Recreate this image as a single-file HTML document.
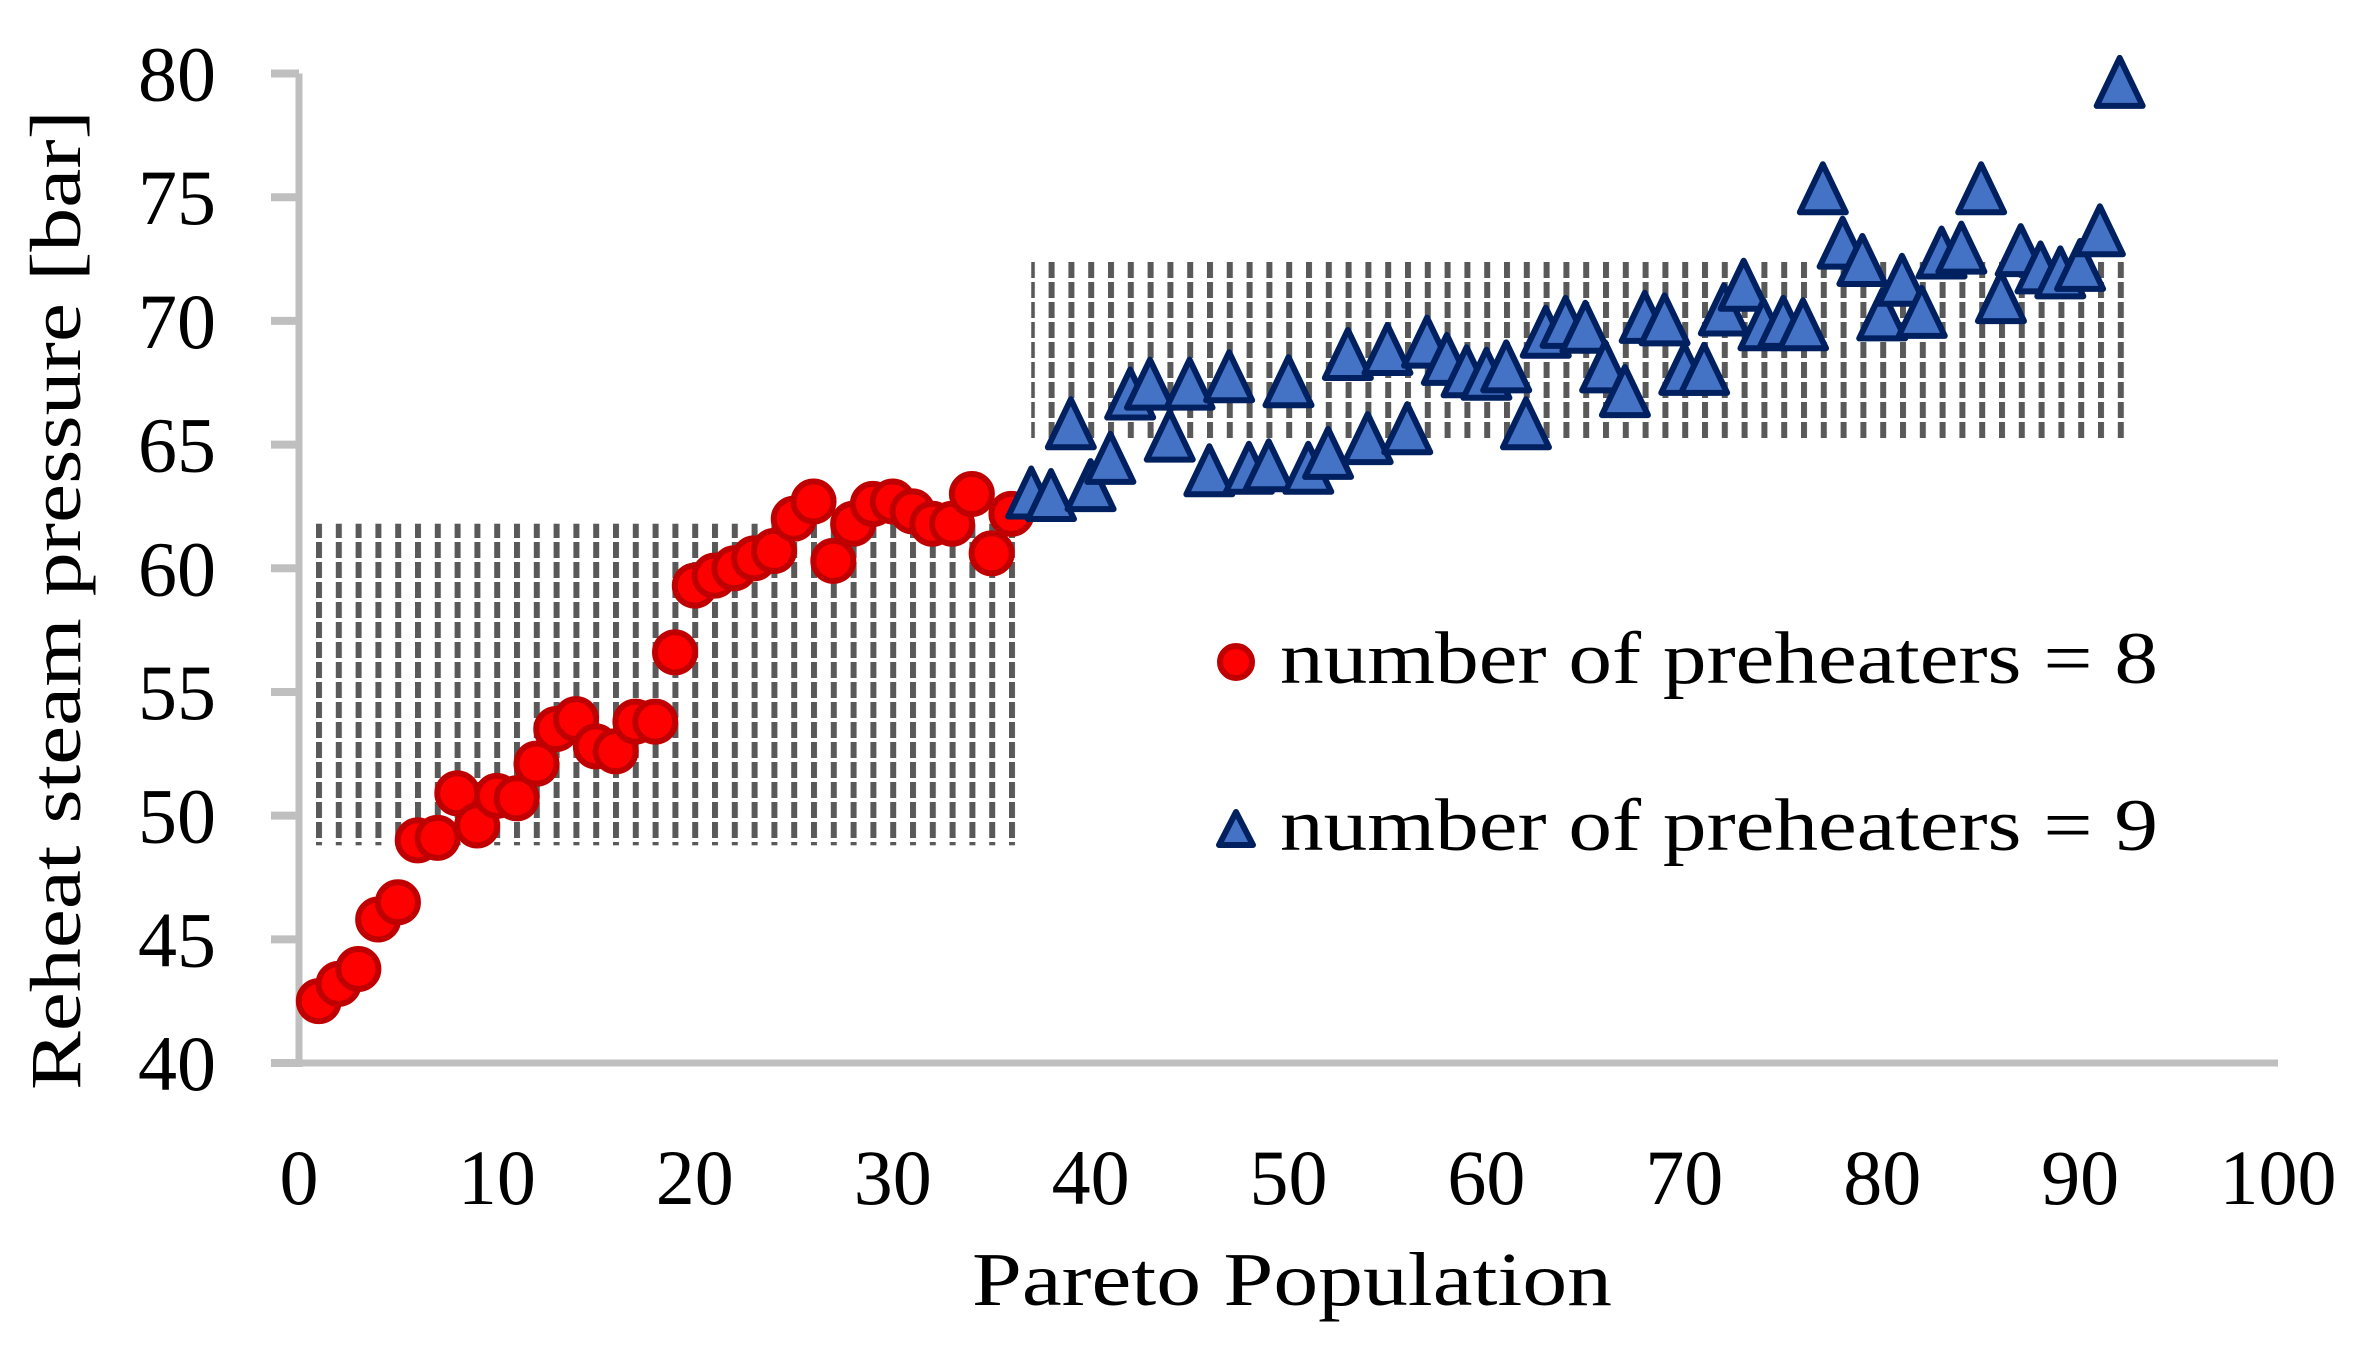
<!DOCTYPE html>
<html><head><meta charset="utf-8"><style>
html,body{margin:0;padding:0;background:#fff;}
svg{display:block;font-family:"Liberation Serif",serif;}
</style></head><body>
<svg id="chart" width="2360" height="1361" viewBox="0 0 2360 1361" xmlns="http://www.w3.org/2000/svg">
<defs>
<pattern id="hatch" patternUnits="userSpaceOnUse" width="19.8" height="20" x="316" y="522">
<rect x="0" y="0" width="6" height="16" fill="#595959"/>
</pattern>
</defs>
<g id="hatches"></g>
<g id="axes"></g>
<g id="marks"></g>
<text transform="translate(80,600) rotate(-90)" text-anchor="middle" font-size="72" textLength="980" lengthAdjust="spacingAndGlyphs">Reheat steam pressure [bar]</text>
<text x="1292" y="1305" text-anchor="middle" font-size="76" textLength="640" lengthAdjust="spacingAndGlyphs">Pareto Population</text>
<g>
<circle cx="1236" cy="662" r="16" fill="#ff0000" stroke="#c00000" stroke-width="6"/>
<text x="1280" y="683" font-size="74" textLength="878" lengthAdjust="spacingAndGlyphs">number of preheaters = 8</text>
<polygon points="1236,812 1219,845 1253,845" fill="#4472c4" stroke="#002060" stroke-width="6" stroke-linejoin="round"/>
<text x="1280" y="850" font-size="74" textLength="878" lengthAdjust="spacingAndGlyphs">number of preheaters = 9</text>
</g>
</svg>
<script>
const xTicks = [0,10,20,30,40,50,60,70,80,90,100];
const yTicks = [40,45,50,55,60,65,70,75,80];
const pop8 = [1,2,3,4,5,6,7,8,9,10,11,12,13,14,15,16,17,18,19,20,21,22,23,24,25,26,27,28,29,30,31,32,33,34,35,36];
const pres8 = [42.5,43.2,43.8,45.8,46.5,49.0,49.1,50.9,49.6,50.8,50.7,52.1,53.5,53.9,52.8,52.6,53.8,53.8,56.6,59.3,59.7,60.0,60.4,60.7,62.0,62.7,60.3,61.8,62.6,62.7,62.3,61.8,61.8,63.0,60.6,62.2];
const pop9 = [37,38,39,40,41,42,43,44,45,46,47,48,49,50,51,52,53,54,55,56,57,58,59,60,61,62,63,64,65,66,67,68,69,70,71,72,73,74,75,76,77,78,79,80,81,82,83,84,85,86,87,88,89,90,91,92];
const pres9 = [62.9,62.8,65.7,63.2,64.3,66.9,67.3,65.2,67.3,63.8,67.6,63.9,64.0,67.4,63.9,64.5,68.5,65.1,68.7,65.5,69.0,68.3,67.8,67.7,68.0,65.7,69.4,69.8,69.6,68.0,67.0,70.0,69.9,67.9,67.9,70.3,71.3,69.7,69.8,69.7,75.2,73.0,72.3,70.1,71.5,70.2,72.6,72.8,75.2,70.8,72.7,72.0,71.8,72.1,73.5,79.5];
const bandX = [[0.85,36.3],[37.0,92.3]];
const bandY = [[48.8,61.8],[65.2,72.4]];

const NS = "http://www.w3.org/2000/svg";
const X0 = 299, X1 = 2278, Y0 = 1063, Y1 = 73.5;
const xs = v => X0 + (v - 0) / 100 * (X1 - X0);
const ys = v => Y0 - (v - 40) / 40 * (Y0 - Y1);
function mk(tag, attrs, parent) {
  const e = document.createElementNS(NS, tag);
  for (const k in attrs) e.setAttribute(k, attrs[k]);
  parent.appendChild(e);
  return e;
}
const hatches = document.getElementById('hatches');
bandX.forEach((bx, i) => {
  const r = mk('rect', {x: xs(bx[0]), y: ys(bandY[i][1]), width: xs(bx[1]) - xs(bx[0]), height: ys(bandY[i][0]) - ys(bandY[i][1]), fill: 'url(#hatch)'}, hatches);
  
  
});
const axes = document.getElementById('axes');
const ya = mk('line', {x1: X0, y1: Y1, x2: X0, y2: Y0 + 4, stroke: '#bfbfbf', 'stroke-width': 7}, axes);


const xa = mk('line', {x1: 271, y1: Y0, x2: X1, y2: Y0, stroke: '#bfbfbf', 'stroke-width': 7}, axes);


yTicks.forEach(t => {
  const l = mk('line', {x1: 271, y1: ys(t), x2: X0, y2: ys(t), stroke: '#bfbfbf', 'stroke-width': 8}, axes);
  
  
  const tx = mk('text', {x: 216, y: ys(t) + 27, 'text-anchor': 'end', 'font-size': 78}, axes);
  tx.textContent = t;
  
  
});
xTicks.forEach(t => {
  const tx = mk('text', {x: xs(t), y: 1204, 'text-anchor': 'middle', 'font-size': 78}, axes);
  tx.textContent = t;
  
  
});
const marks = document.getElementById('marks');
pop8.forEach((p, i) => {
  const c = mk('circle', {cx: xs(p), cy: ys(pres8[i]), r: 20, fill: '#ff0000', stroke: '#c00000', 'stroke-width': 6}, marks);
  
  
});
pop9.forEach((p, i) => {
  const cx = xs(p), cy = ys(pres9[i]);
  const pts = [[cx, cy - 28], [cx - 23, cy + 20], [cx + 23, cy + 20]].map(a => a.join(',')).join(' ');
  const t = mk('polygon', {points: pts, fill: '#4472c4', stroke: '#002060', 'stroke-width': 6, 'stroke-linejoin': 'round'}, marks);
  
  
});
</script>
</body></html>
